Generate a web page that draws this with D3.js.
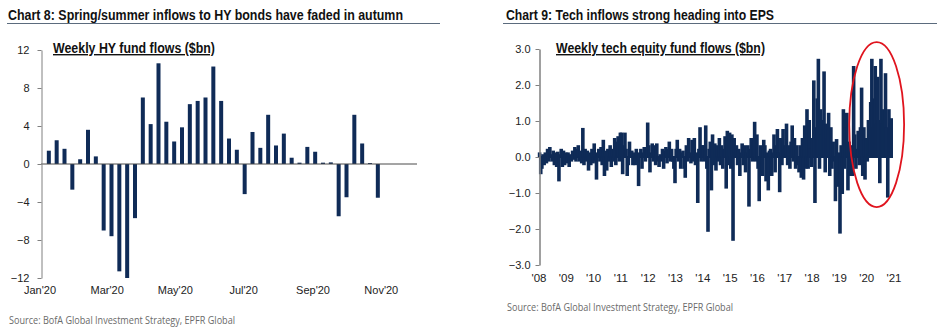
<!DOCTYPE html>
<html>
<head>
<meta charset="utf-8">
<script src="https://cdn.jsdelivr.net/npm/d3@7"></script>
<style>
  body { margin: 0; background: #fff; }
  svg text { font-family: "Liberation Sans", Arial, sans-serif; }
  .title { font-family: "Liberation Sans Narrow", "Liberation Sans", Arial, sans-serif; font-weight: bold; font-size: 14px; fill: #111; }
  .subtitle { font-family: "Liberation Sans Narrow", "Liberation Sans", Arial, sans-serif; font-weight: bold; font-size: 14px; fill: #111; text-decoration: underline; }
  .source { font-family: "Open Sans", "Noto Sans", sans-serif; font-size: 11px; fill: #6a6a6a; }
  .tick text { font-size: 11px; fill: #222; }
</style>
</head>
<body>
<div id="chart"></div>
<script>
// ---- Chart 8: weekly HY fund flows ($bn), weeks from 8 Jan 2020 ----
const hyFirstWeek = "2020-01-08";
const hyFlows = [1.4, 2.5, 1.6, -2.7, 0.5, 3.6, 0.8, -7.0, -7.6, -11.3, -12.0, -5.7,
  7.0, 4.2, 10.6, 4.45, 2.37, 3.86, 6.3, 6.64, 7.0, 10.26, 6.64, 2.68, 1.5, -3.17,
  3.37, 1.7, 5.18, 1.95, 3.2, 0.66, 0.14, 1.8, 1.29, 0.14, 0.17, -5.5, -3.5, 5.18,
  2.16, 0.1, -3.55];
const hyYTicks = [-12, -8, -4, 0, 4, 8, 12];
const hyXTicks = ["2020-01-01", "2020-03-01", "2020-05-01", "2020-07-01", "2020-09-01", "2020-11-01"];

// ---- Chart 9: weekly tech equity fund flows ($bn), read twice a month ----
const tech2008 = [0.1, -0.45, -0.3, 0.05, -0.2, 0.1, -0.15, 0.2, -0.1, 0.25, 0.05, -0.1, 0.15, -0.2, 0.1, -0.25, 0.12, -0.65, 0.05, 0.2, -0.25, 0.15, -0.2, 0.1];
const tech2009 = [-0.15, 0.1, -0.25, 0.05, -0.1, 0.15, -0.05, 0.25, -0.1, 0.2, 0.3, -0.1, 0.15, -0.15, 0.78, -0.2, 0.2, -0.1, 0.15, -0.35, 0.1, -0.2, 0.2, -0.15];
const tech2010 = [0.35, -0.1, -0.6, 0.1, 0.2, -0.1, 0.25, -0.2, 0.45, -0.5, 0.15, -0.35, 0.2, -0.1, 0.3, -0.25, 0.2, -0.1, 0.5, -0.2, 0.4, 0.55, -0.1, 0.65];
const tech2011 = [0.65, -0.45, 0.3, 0.65, 0.2, -0.5, -0.2, 0.4, 0.1, 0.15, -0.2, 0.1, -0.2, 0.2, -0.1, -0.78, 0.1, 0.2, -0.3, 0.1, 0.25, -0.1, 0.15, 0.93];
const tech2012 = [0.3, -0.4, 0.1, 0.35, -0.1, 0.3, -0.2, 0.35, -0.1, -0.25, 0.05, -0.1, 0.2, -0.3, 0.15, 0.25, -0.15, 0.2, 0.4, -0.1, 0.2, -0.1, -0.3, -0.7];
const tech2013 = [0.2, 0.45, -0.1, 0.2, -0.3, 0.1, 0.15, -0.3, -0.55, 0.3, -0.1, 0.5, 0.1, -0.15, 0.45, -0.1, 0.5, -0.2, 0.1, -1.25, 0.2, 0.8, -0.1, 0.3];
const tech2014 = [0.3, -0.1, 0.85, -0.3, -2.05, 0.2, 0.4, -0.9, 0.6, -0.2, 0.35, -0.35, 0.3, -0.1, 0.5, -0.2, 0.3, -0.3, 0.2, 0.55, -0.85, 0.7, -0.2, 0.65];
const tech2015 = [-0.3, 0.6, -2.3, 0.5, 0.1, 0.3, -0.2, 0.2, -0.5, 0.1, 0.35, -0.2, 0.3, -0.4, 0.1, 0.3, -1.35, 0.2, 0.5, -0.1, 0.4, 0.95, -0.1, 0.6];
const tech2016 = [-0.3, -1.2, 0.3, 0.2, -0.5, 0.45, 0.3, -0.65, 0.1, -0.9, 0.15, 0.2, -0.5, 0.1, 0.6, -0.4, 0.3, 0.75, 0.1, -0.95, 0.5, -0.2, 0.75, 0.2];
const tech2017 = [0.3, 0.9, -0.2, 0.3, -0.3, 0.4, 0.85, -0.1, 0.5, -0.3, 0.3, -0.2, -0.4, 0.3, -0.55, 0.5, -0.6, 0.85, -0.3, 1.3, -0.3, 1.0, 0.2, -0.25];
const tech2018 = [0.5, 2.1, -1.25, 0.8, 1.6, 2.7, -0.3, 1.3, 0.6, 1.0, 2.35, -0.4, 0.9, 0.5, 1.2, -0.5, 0.8, -0.3, 0.4, -0.1, -1.2, 0.47, -0.8, 0.1];
const tech2019 = [-2.1, 0.3, -1.0, 1.3, -0.3, 0.8, 1.2, -0.9, 0.4, -0.5, 0.3, -0.5, 2.5, 0.6, -0.3, 0.2, 0.7, -0.2, 0.8, 1.9, -0.5, 0.8, -0.6, 0.5];
const tech2020 = [-0.1, 1.0, 0.6, 1.5, 2.7, 0.8, 1.6, 2.5, 0.9, 2.2, 1.0, -0.7, 2.7, 0.9, 1.3, 1.0, 2.3, 0.8, -1.1, 1.3, 0.9, 1.05];
const techYears = [2008, 2009, 2010, 2011, 2012, 2013, 2014, 2015, 2016, 2017, 2018, 2019, 2020];
const techByYear = [tech2008, tech2009, tech2010, tech2011, tech2012, tech2013, tech2014, tech2015, tech2016, tech2017, tech2018, tech2019, tech2020];
const techYTicks = [-3, -2, -1, 0, 1, 2, 3];
const techXTicks = d3.range(2008, 2022);
// highlight ellipse round 2020 (years, $bn)
const circleBox = { x0: 2019.36, x1: 2021.37, y0: -1.39, y1: 3.19 };

const barColor = "#0f2b57";
const width = 941, height = 333;

const svg = d3.select("#chart").append("svg")
  .attr("width", width)
  .attr("height", height)
  .style("background", "#fff");

function header(x, lineX0, lineX1, title, titleLen, subX, subtitle, subLen) {
  svg.append("text").attr("class", "title")
    .attr("x", x).attr("y", 20)
    .attr("textLength", titleLen).attr("lengthAdjust", "spacingAndGlyphs")
    .text(title);
  svg.append("line")
    .attr("x1", lineX0).attr("x2", lineX1)
    .attr("y1", 23.5).attr("y2", 23.5)
    .attr("stroke", "#5b6b7d").attr("stroke-width", 1);
  svg.append("text").attr("class", "subtitle")
    .attr("x", subX).attr("y", 53)
    .attr("textLength", subLen).attr("lengthAdjust", "spacingAndGlyphs")
    .text(subtitle);
}

function source(x, y) {
  svg.append("text").attr("class", "source")
    .attr("x", x).attr("y", y)
    .attr("textLength", 226).attr("lengthAdjust", "spacingAndGlyphs")
    .text("Source: BofA Global Investment Strategy, EPFR Global");
}

// ================= Chart 8 =================
header(8, 7, 440, "Chart 8: Spring/summer inflows to HY bonds have faded in autumn", 395,
  53, "Weekly HY fund flows ($bn)", 162);

const parse = d3.timeParse("%Y-%m-%d");
const hyStart = parse(hyFirstWeek);
const hyData = hyFlows.map((v, i) => ({ date: d3.timeDay.offset(hyStart, i * 7), value: v }));

const hyX = d3.scaleTime()
  .domain([parse("2020-01-01"), parse("2020-12-02")])
  .range([41, 417]);
const hyY = d3.scaleLinear().domain([-12, 12]).range([278, 50]);

const left = svg.append("g");

left.selectAll("rect")
  .data(hyData)
  .join("rect")
  .attr("x", d => hyX(d.date) - 2)
  .attr("y", d => hyY(Math.max(0, d.value)))
  .attr("width", 4)
  .attr("height", d => Math.abs(hyY(d.value) - hyY(0)))
  .attr("fill", barColor);

// zero line
left.append("line")
  .attr("x1", hyX.range()[0]).attr("x2", hyX.range()[1])
  .attr("y1", hyY(0)).attr("y2", hyY(0))
  .attr("stroke", "#4a4a4a").attr("stroke-width", 1);

const hyAxis = left.append("g")
  .attr("transform", `translate(${hyX.range()[0] + 0.5}, 0)`)
  .call(d3.axisLeft(hyY).tickValues(hyYTicks).tickSize(4).tickSizeOuter(0).tickPadding(8));
hyAxis.select(".domain").attr("stroke", "#808080");
hyAxis.selectAll(".tick line").attr("stroke", "#808080");

left.selectAll(".xlab")
  .data(hyXTicks.map(parse))
  .join("text")
  .attr("class", "xlab")
  .attr("x", d => hyX(d) - 1)
  .attr("y", 294)
  .attr("text-anchor", "middle")
  .attr("font-size", 11)
  .attr("fill", "#222")
  .text(d3.timeFormat("%b'%y"));

source(9, 324);

// ================= Chart 9 =================
header(506, 503, 937, "Chart 9: Tech inflows strong heading into EPS", 268,
  556, "Weekly tech equity fund flows ($bn)", 209);

const techData = techByYear.flatMap((vals, k) =>
  vals.map((v, i) => ({ t: techYears[k] + i / 24, value: v })));

const tX = d3.scaleLinear().domain([2008, 2021]).range([539, 894]);
const tY = d3.scaleLinear().domain([-3, 3]).range([265, 49]);

const right = svg.append("g");

// dense weekly columns: each one a bit wider than its slot so the band reads solid
right.selectAll("rect")
  .data(techData)
  .join("rect")
  .attr("x", d => tX(d.t) - 1.2)
  .attr("y", d => tY(Math.max(0, d.value)) - 1)
  .attr("width", 3.6)
  .attr("height", d => Math.abs(tY(d.value) - tY(0)) + 2)
  .attr("fill", barColor);

const tAxis = right.append("g")
  .attr("transform", `translate(${tX(2008) + 0.5}, 0)`)
  .call(d3.axisLeft(tY).tickValues(techYTicks).tickSize(4).tickSizeOuter(0).tickPadding(5)
    .tickFormat(d3.format(".1f")));
tAxis.select(".domain").attr("stroke", "#808080").attr("stroke-width", 1.5);
tAxis.selectAll(".tick line").attr("stroke", "#808080");
tAxis.selectAll(".tick text").attr("font-size", 11.5);

right.selectAll(".xlab")
  .data(techXTicks)
  .join("text")
  .attr("class", "xlab")
  .attr("x", d => tX(d))
  .attr("y", 282)
  .attr("text-anchor", "middle")
  .attr("font-size", 11.5)
  .attr("fill", "#222")
  .text(d => "'" + String(d).slice(2));

// red highlight ellipse
right.append("ellipse")
  .attr("cx", (tX(circleBox.x0) + tX(circleBox.x1)) / 2)
  .attr("cy", (tY(circleBox.y0) + tY(circleBox.y1)) / 2)
  .attr("rx", (tX(circleBox.x1) - tX(circleBox.x0)) / 2)
  .attr("ry", (tY(circleBox.y0) - tY(circleBox.y1)) / 2)
  .attr("fill", "none")
  .attr("stroke", "#e0141e")
  .attr("stroke-width", 1.8);

source(507, 311);
</script>
</body>
</html>
